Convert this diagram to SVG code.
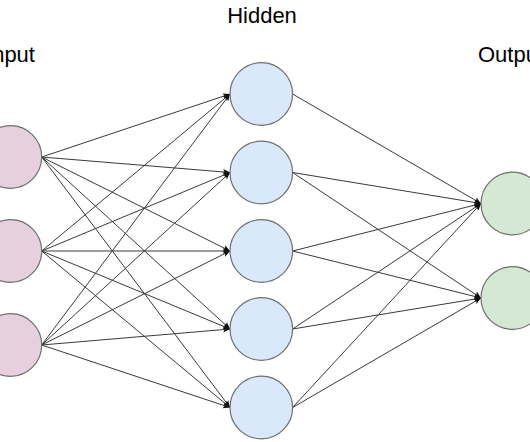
<svg xmlns="http://www.w3.org/2000/svg" width="530" height="442" viewBox="0 0 530 442">
<defs>
<style>
.lbl{font-family:"Liberation Sans",Arial,sans-serif;font-size:22px;fill:#000;text-anchor:middle}
.in{fill:#e6d0de;stroke:#6e6e6e;stroke-width:1.2}
.hid{fill:#dae8fc;stroke:#6e6e6e;stroke-width:1.2}
.out{fill:#d5e8d4;stroke:#6e6e6e;stroke-width:1.2}
.e{stroke:#3a3a3a;stroke-width:1;fill:none;marker-end:url(#arr)}
</style>
<marker id="arr" markerUnits="userSpaceOnUse" markerWidth="8" markerHeight="8" refX="7" refY="4" orient="auto">
<path d="M0,1 L7,4 L0,7 L1.5,4 z" fill="#111"/>
</marker>
</defs>
<rect width="530" height="442" fill="#fff"/>
<text class="lbl" x="10.5" y="62">Input</text>
<text class="lbl" x="262" y="23">Hidden</text>
<text class="lbl" x="511" y="62">Output</text>
<g id="connectors">
<line class="e" x1="41.7" y1="157" x2="230" y2="94"/>
<line class="e" x1="41.7" y1="157" x2="230" y2="172.5"/>
<line class="e" x1="41.7" y1="157" x2="230" y2="251"/>
<line class="e" x1="41.7" y1="157" x2="230" y2="329"/>
<line class="e" x1="41.7" y1="157" x2="230" y2="407.5"/>
<line class="e" x1="41.7" y1="251" x2="230" y2="94"/>
<line class="e" x1="41.7" y1="251" x2="230" y2="172.5"/>
<line class="e" x1="41.7" y1="251" x2="230" y2="251"/>
<line class="e" x1="41.7" y1="251" x2="230" y2="329"/>
<line class="e" x1="41.7" y1="251" x2="230" y2="407.5"/>
<line class="e" x1="41.7" y1="345" x2="230" y2="94"/>
<line class="e" x1="41.7" y1="345" x2="230" y2="172.5"/>
<line class="e" x1="41.7" y1="345" x2="230" y2="251"/>
<line class="e" x1="41.7" y1="345" x2="230" y2="329"/>
<line class="e" x1="41.7" y1="345" x2="230" y2="407.5"/>
<line class="e" x1="292.6" y1="94" x2="481" y2="203.5"/>
<line class="e" x1="292.6" y1="172.5" x2="481" y2="203.5"/>
<line class="e" x1="292.6" y1="172.5" x2="481" y2="298"/>
<line class="e" x1="292.6" y1="251" x2="481" y2="203.5"/>
<line class="e" x1="292.6" y1="251" x2="481" y2="298"/>
<line class="e" x1="292.6" y1="329" x2="481" y2="203.5"/>
<line class="e" x1="292.6" y1="329" x2="481" y2="298"/>
<line class="e" x1="292.6" y1="407.5" x2="481" y2="203.5"/>
<line class="e" x1="292.6" y1="407.5" x2="481" y2="298"/>
</g>
<g id="input1"><circle class="in" cx="10.4" cy="157" r="31.3"/></g>
<g id="input2"><circle class="in" cx="10.4" cy="251" r="31.3"/></g>
<g id="input3"><circle class="in" cx="10.4" cy="345" r="31.3"/></g>
<g id="hidden1"><circle class="hid" cx="261.3" cy="94" r="31.3"/></g>
<g id="hidden2"><circle class="hid" cx="261.3" cy="172.5" r="31.3"/></g>
<g id="hidden3"><circle class="hid" cx="261.3" cy="251" r="31.3"/></g>
<g id="hidden4"><circle class="hid" cx="261.3" cy="329" r="31.3"/></g>
<g id="hidden5"><circle class="hid" cx="261.3" cy="407.5" r="31.3"/></g>
<g id="output1"><circle class="out" cx="512.3" cy="203.5" r="31.3"/></g>
<g id="output2"><circle class="out" cx="512.3" cy="298" r="31.3"/></g>
</svg>
